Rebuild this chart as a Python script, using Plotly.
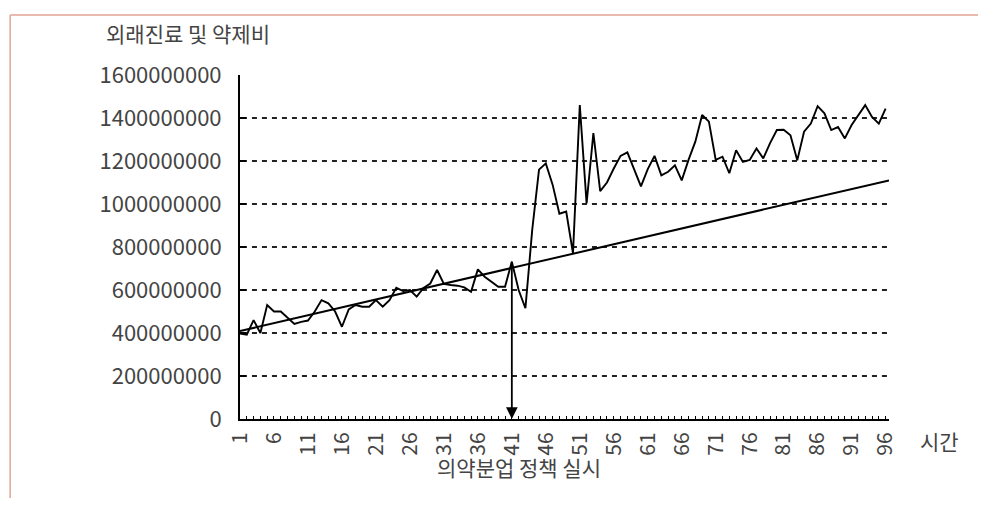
import plotly.graph_objects as go

# ---------------- data ----------------
periods = list(range(1, 97))
spending_million = [
    398, 392, 460, 400, 530, 500, 500, 470, 442, 452,
    458, 500, 553, 538, 500, 429, 510, 530, 522, 522,
    553, 522, 553, 610, 595, 600, 569, 610, 630, 693,
    628, 623, 620, 612, 592, 696, 662, 638, 615, 615,
    732, 600, 515, 880, 1160, 1189, 1090, 955, 965, 771,
    1460, 1003, 1330, 1060, 1100, 1165, 1224, 1240, 1160, 1082,
    1162, 1224, 1133, 1150, 1180, 1110, 1205, 1290, 1414, 1383,
    1205, 1220, 1143, 1250, 1196, 1205, 1258, 1212, 1283, 1344,
    1345, 1320, 1203, 1336, 1374, 1455, 1422, 1344, 1358, 1305,
    1367, 1414, 1460, 1405, 1374, 1444,
]
spending = [v * 1_000_000 for v in spending_million]

trend_x = [1, 96.5]
trend_million = [409, 1110]
trend_y = [v * 1_000_000 for v in trend_million]

y_ticks = [0, 200000000, 400000000, 600000000, 800000000,
           1000000000, 1200000000, 1400000000, 1600000000]
grid_values = [200000000, 400000000, 600000000, 800000000,
               1000000000, 1200000000, 1400000000]
x_labels = [str(p) if (p - 1) % 5 == 0 else "" for p in periods]

policy_period = 41
y_title = "외래진료 및 약제비"
x_title = "시간"
policy_text = "의약분업 정책 실시"

# ---------------- layout geometry ----------------
OFF = 8  # page body margin
W, H = 986 - OFF, 508 - OFF
L, T = 240 - OFF, 75 - OFF
PLOT_R, PLOT_B = 889.4 - OFF, 419 - OFF
R, B = W - PLOT_R, H - PLOT_B
PW = PLOT_R - L
PH = PLOT_B - T

def px(xp):
    return (xp - OFF - L) / PW

def py(yp):
    return (PLOT_B - (yp - OFF)) / PH

FONT = "Noto Sans CJK KR, Noto Sans, sans-serif"
TXT = "#444444"

fig = go.Figure()
fig.add_trace(go.Scatter(x=periods, y=spending, mode="lines",
                         line=dict(color="black", width=1.9),
                         hoverinfo="skip", showlegend=False))
fig.add_trace(go.Scatter(x=trend_x, y=trend_y, mode="lines",
                         line=dict(color="black", width=2),
                         hoverinfo="skip", showlegend=False))

shapes = []
for g in grid_values:
    shapes.append(dict(type="line", xref="paper", yref="y", x0=0.003, x1=1,
                       y0=g, y1=g, layer="below",
                       line=dict(color="#222222", width=1.8, dash="5px,5px")))
# frame lines (salmon) top and left
shapes.append(dict(type="line", xref="paper", yref="paper",
                   x0=px(10), x1=px(990), y0=py(15), y1=py(15),
                   line=dict(color="#E3A393", width=1.5)))
shapes.append(dict(type="line", xref="paper", yref="paper",
                   x0=px(10), x1=px(10), y0=py(15), y1=py(498),
                   line=dict(color="#E3A393", width=1.5)))

def label(x, y, text, size):
    return dict(x=px(x), y=py(y), xref="paper", yref="paper", text=text,
                xanchor="center", yanchor="middle", showarrow=False,
                font=dict(family=FONT, size=size, color=TXT))

annotations = [
    dict(x=policy_period, y=0, xref="x", yref="y",
         ax=policy_period, ay=spending[policy_period - 1], axref="x", ayref="y",
         showarrow=True, arrowhead=2, arrowsize=1.3, arrowwidth=1.8,
         arrowcolor="black", text=""),
    label(188, 33, y_title, 21),
    label(519, 467, policy_text, 21),
    label(940, 441, x_title, 21),
]

fig.update_layout(
    width=W, height=H,
    margin=dict(l=L, r=R, t=T, b=B, pad=0),
    paper_bgcolor="white", plot_bgcolor="white",
    shapes=shapes, annotations=annotations,
    font=dict(family=FONT, color=TXT),
    xaxis=dict(range=[1, 96.5], tickmode="array", tickvals=periods, ticktext=x_labels,
               tickangle=-90, ticks="inside", ticklen=3, tickwidth=1, tickcolor="black",
               showline=True, linecolor="black", linewidth=2, showgrid=False,
               zeroline=False, tickfont=dict(family=FONT, size=21, color=TXT),
               ticklabelstandoff=3),
    yaxis=dict(range=[0, 1600000000], tickmode="array", tickvals=y_ticks,
               ticktext=[str(v) for v in y_ticks],
               ticks="inside", ticklen=6, tickwidth=1.5, tickcolor="black",
               showline=True, linecolor="black", linewidth=2, showgrid=False,
               zeroline=False, tickfont=dict(family=FONT, size=22, color=TXT),
               ticklabelstandoff=12),
)

fig.write_html("out.html")
